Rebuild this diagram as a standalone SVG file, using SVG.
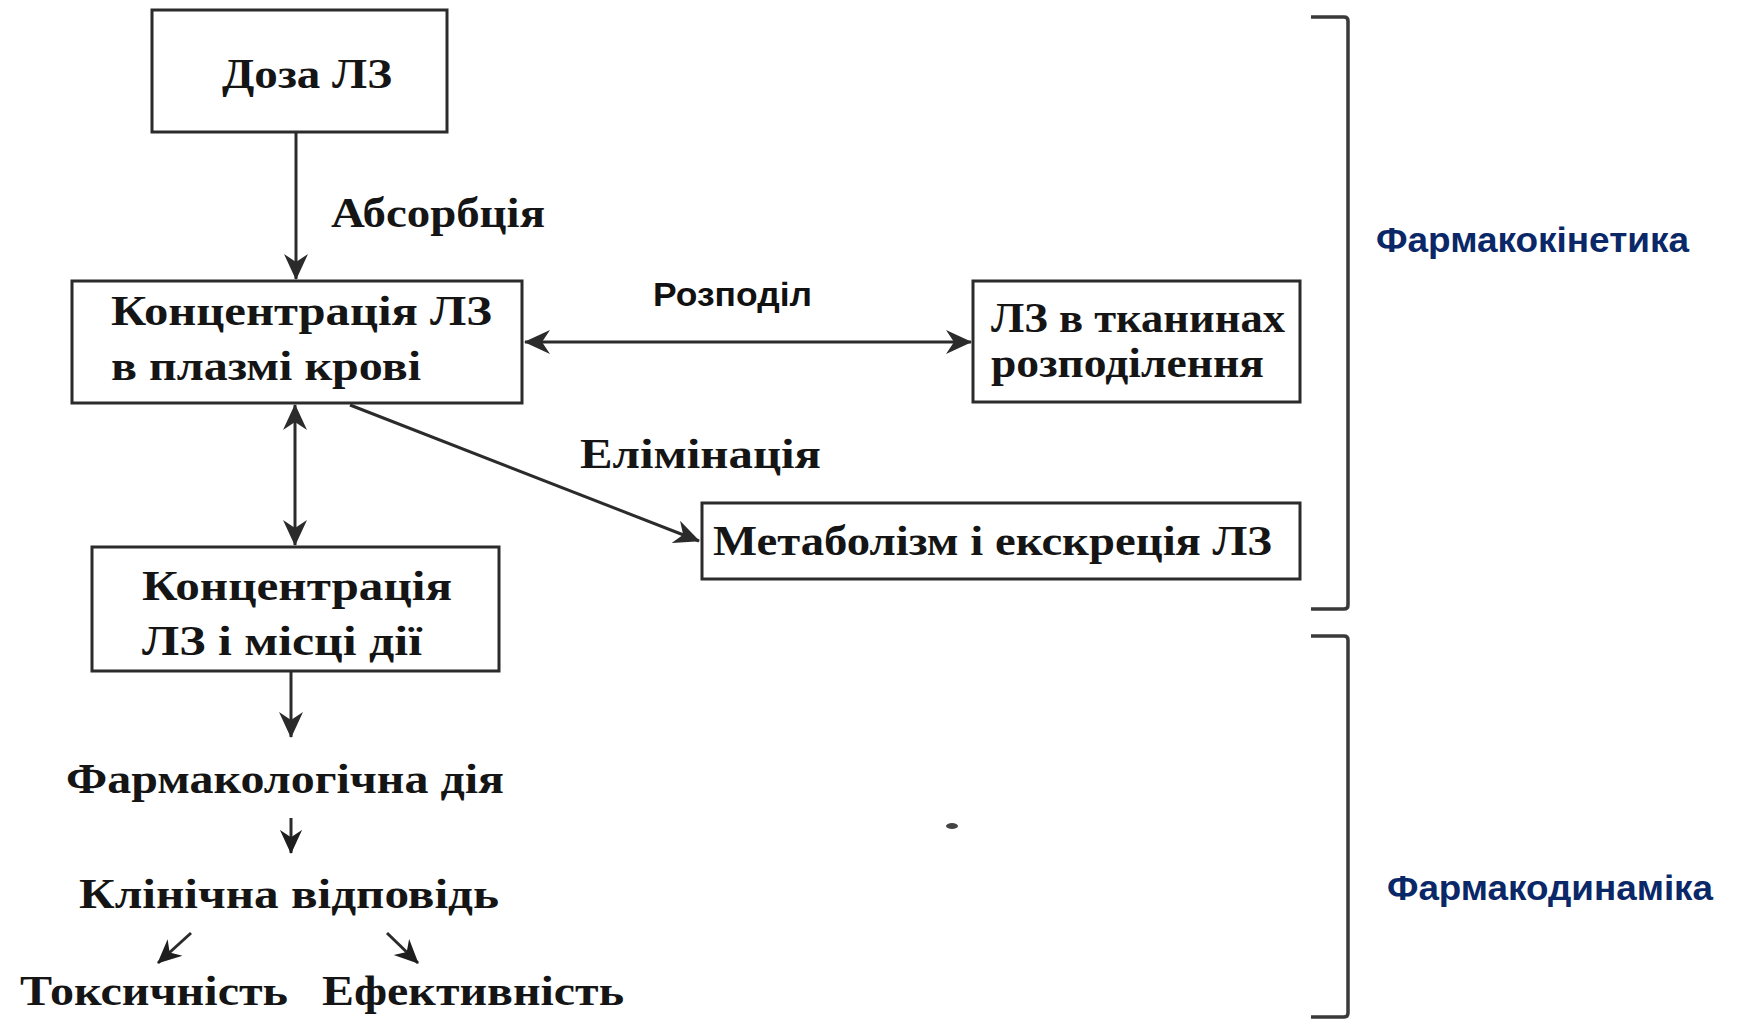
<svg xmlns="http://www.w3.org/2000/svg" width="1742" height="1021" viewBox="0 0 1742 1021">
<style>
.box{fill:#fff;stroke:#2b2b2b;stroke-width:3}
.t{font-family:"Liberation Serif","Times New Roman",serif;font-weight:bold;font-size:43px;fill:#151515}
.s{font-family:"Liberation Sans",Arial,sans-serif;font-weight:bold;fill:#111}
.b{font-family:"Liberation Sans",Arial,sans-serif;font-weight:bold;font-size:35px;fill:#0a2868}
.c{fill:none;stroke:#2b2b2b;stroke-width:3}
.br{fill:none;stroke:#3a3a3a;stroke-width:3.5}
</style>
<defs>
<marker id="ah" viewBox="0 0 26 24" refX="25" refY="12" markerWidth="26" markerHeight="24" markerUnits="userSpaceOnUse" orient="auto-start-reverse">
<path d="M0,0 L26,12 L0,24 L8,12 z" fill="#2b2b2b"/>
</marker>
<marker id="ahs" viewBox="0 0 26 24" refX="25" refY="12" markerWidth="24" markerHeight="24" markerUnits="userSpaceOnUse" orient="auto">
<path d="M0,0 L26,12 L0,24 L8,12 z" fill="#1e1e1e"/>
</marker>
</defs>
<rect width="1742" height="1021" fill="#fff"/>

<g id="connectors">
<line class="c" x1="296" y1="132" x2="296" y2="279" marker-end="url(#ah)"/>
<line class="c" x1="525" y1="342" x2="971" y2="342" marker-start="url(#ah)" marker-end="url(#ah)"/>
<line class="c" x1="295" y1="405" x2="295" y2="545" marker-start="url(#ah)" marker-end="url(#ah)"/>
<line class="c" x1="350" y1="405" x2="699" y2="541" marker-end="url(#ah)"/>
<line class="c" x1="291" y1="672" x2="291" y2="737" marker-end="url(#ah)"/>
<line class="c" x1="291" y1="818" x2="291" y2="853" stroke-width="4" marker-end="url(#ahs)"/>
<line class="c" x1="191" y1="933" x2="158" y2="963" marker-end="url(#ahs)" stroke-width="5"/>
<line class="c" x1="387" y1="933" x2="418" y2="963" marker-end="url(#ahs)" stroke-width="5"/>
<text class="t" x="331" y="227" textLength="214" lengthAdjust="spacingAndGlyphs">Абсорбція</text>
<text class="s" x="653" y="306" font-size="34" textLength="159" lengthAdjust="spacingAndGlyphs">Розподіл</text>
<text class="t" x="580" y="468" textLength="241" lengthAdjust="spacingAndGlyphs">Елімінація</text>
</g>

<g id="dose">
<rect class="box" x="152" y="10" width="295" height="122"/>
<text class="t" x="222" y="88" textLength="170" lengthAdjust="spacingAndGlyphs">Доза ЛЗ</text>
</g>

<g id="plasma">
<rect class="box" x="72" y="281" width="450" height="122"/>
<text class="t" x="111" y="325" textLength="381" lengthAdjust="spacingAndGlyphs">Концентрація ЛЗ</text>
<text class="t" x="111" y="380" textLength="310" lengthAdjust="spacingAndGlyphs">в плазмі крові</text>
</g>

<g id="tissue">
<rect class="box" x="973" y="281" width="327" height="121"/>
<text class="t" x="991" y="332" textLength="294" lengthAdjust="spacingAndGlyphs">ЛЗ в тканинах</text>
<text class="t" x="991" y="377" textLength="273" lengthAdjust="spacingAndGlyphs">розподілення</text>
</g>

<g id="metabolism">
<rect class="box" x="702" y="503" width="598" height="76"/>
<text class="t" x="713" y="555" textLength="559" lengthAdjust="spacingAndGlyphs">Метаболізм і екскреція ЛЗ</text>
</g>

<g id="site">
<rect class="box" x="92" y="547" width="407" height="124"/>
<text class="t" x="142" y="600" textLength="310" lengthAdjust="spacingAndGlyphs">Концентрація</text>
<text class="t" x="142" y="655" textLength="280" lengthAdjust="spacingAndGlyphs">ЛЗ і місці дії</text>
</g>

<g id="pharm-action">
<text class="t" x="66" y="793" textLength="438" lengthAdjust="spacingAndGlyphs">Фармакологічна дія</text>
</g>

<g id="clinical">
<text class="t" x="79" y="908" textLength="420" lengthAdjust="spacingAndGlyphs">Клінічна відповідь</text>
</g>

<g id="toxicity">
<text class="t" x="20" y="1005" textLength="268" lengthAdjust="spacingAndGlyphs">Токсичність</text>
</g>

<g id="efficacy">
<text class="t" x="322" y="1005" textLength="302" lengthAdjust="spacingAndGlyphs">Ефективність</text>
</g>

<g id="pk-bracket">
<path class="br" d="M1311,17 L1344,17 Q1348,17 1348,21 L1348,605 Q1348,609 1344,609 L1311,609"/>
<text class="b" x="1376" y="252" textLength="313" lengthAdjust="spacingAndGlyphs">Фармакокінетика</text>
</g>

<g id="pd-bracket">
<path class="br" d="M1311,636 L1344,636 Q1348,636 1348,640 L1348,1013 Q1348,1017 1344,1017 L1311,1017"/>
<text class="b" x="1387" y="900" textLength="326" lengthAdjust="spacingAndGlyphs">Фармакодинаміка</text>
</g>

<ellipse cx="952" cy="826" rx="6" ry="3" fill="#444"/>
</svg>
